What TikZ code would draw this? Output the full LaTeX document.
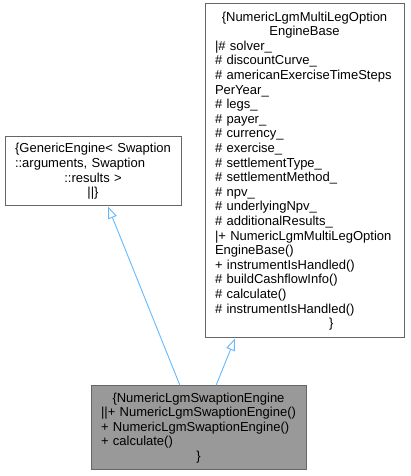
\documentclass[tikz,border=0pt]{standalone}
\usepackage{fontspec}
\setmainfont{Liberation Sans}
\usetikzlibrary{arrows.meta}
\definecolor{edgeblue}{HTML}{63B8FF}
\definecolor{boxborder}{HTML}{666666}
\definecolor{boxfill}{HTML}{999999}
\newcommand{\cln}[1]{\leavevmode\hbox to \hsize{\hfil#1\hfil}}
\begin{document}
\begin{tikzpicture}[x=1pt,y=1pt,
  cls/.style={draw=boxborder, line width=1pt, inner xsep=10pt, inner ysep=0pt,
    align=left, font=\fontsize{13}{14.6}\selectfont, anchor=center},
  inh/.style={draw=edgeblue, line width=0.9pt,
    -{Triangle[open,length=12pt,width=9pt,fill=white]}}]
\useasboundingbox (0,0) rectangle (410,476);
\node[cls, text width=179pt, minimum width=199pt, minimum height=334pt] (base) at (304.5,305) {%
\cln{\{NumericLgmMultiLegOption}\\
\cln{EngineBase}\\
|\# solver\_\\
\# discountCurve\_\\
\# americanExerciseTimeSteps\\
PerYear\_\\
\# legs\_\\
\# payer\_\\
\# currency\_\\
\# exercise\_\\
\# settlementType\_\\
\# settlementMethod\_\\
\# npv\_\\
\# underlyingNpv\_\\
\# additionalResults\_\\
|+ NumericLgmMultiLegOption\\
EngineBase()\\
+ instrumentIsHandled()\\
\# buildCashflowInfo()\\
\# calculate()\\
\# instrumentIsHandled()\\
\hspace*{114pt}\}};
\node[cls, text width=156pt, minimum width=176pt, minimum height=69pt] (gen) at (93,304.5) {%
\cln{\{GenericEngine< Swaption}\\
::arguments, Swaption\\
\cln{::results >}\\
\cln{||\}}};
\node[cls, fill=boxfill, text width=195pt, minimum width=215pt, minimum height=84pt] (swp) at (198.5,48) {%
\cln{\{NumericLgmSwaptionEngine}\\
||+ NumericLgmSwaptionEngine()\\
+ NumericLgmSwaptionEngine()\\
+ calculate()\\
\cln{\}}};
\draw[inh] ([xshift=-18.5pt]swp.north) -- ([xshift=15pt]gen.south);
\draw[inh] ([xshift=17.5pt]swp.north) -- ([xshift=-69.5pt]base.south);
\end{tikzpicture}
\end{document}
